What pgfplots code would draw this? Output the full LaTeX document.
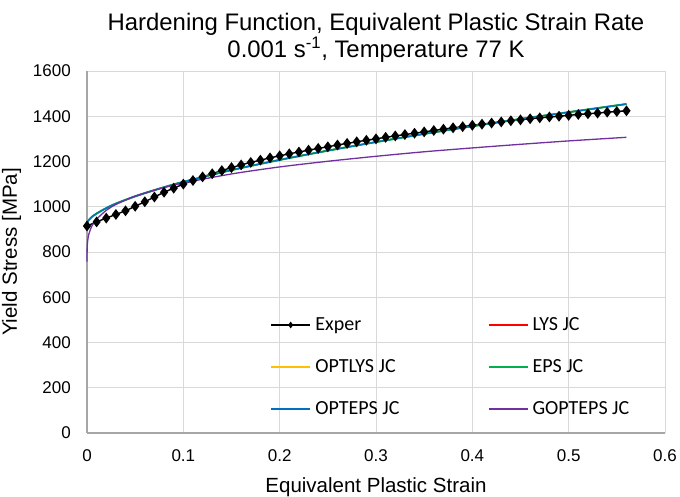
\documentclass[border=0pt]{standalone}
\usepackage{fontspec}
\setmainfont{Liberation Sans}
\newfontfamily\legfont{Carlito}
\usepackage{pgfplots}
\pgfplotsset{compat=1.18}
\definecolor{gridc}{HTML}{D9D9D9}
\definecolor{axc}{HTML}{A6A6A6}
\definecolor{cred}{HTML}{FF0000}
\definecolor{cyel}{HTML}{FFC000}
\definecolor{cgrn}{HTML}{00B050}
\definecolor{cblu}{HTML}{0070C0}
\definecolor{cpur}{HTML}{7030A0}
\begin{document}
\begin{tikzpicture}
\begin{axis}[
  scale only axis, width=578pt, height=362pt,
  xmin=0, xmax=0.6, ymin=0, ymax=1600,
  axis x line=bottom, axis y line=left,
  axis line style={axc, line width=1.3pt, -},
  xtick={0,0.1,0.2,0.3,0.4,0.5,0.6},
  xticklabels={0,0.1,0.2,0.3,0.4,0.5,0.6},
  ytick={0,200,400,600,800,1000,1200,1400,1600},
  yticklabels={0,200,400,600,800,1000,1200,1400,1600},
  major tick length=0pt,
  grid=major, major grid style={gridc, line width=0.8pt},
  tick label style={font=\fontsize{17}{20}\selectfont, inner sep=0pt, text=black},
  xticklabel style={anchor=north, yshift=-16pt},
  yticklabel style={anchor=east, xshift=-16pt},
  xlabel={Equivalent Plastic Strain},
  ylabel={Yield Stress [MPa]},
  label style={font=\fontsize{20.5}{24}\selectfont},
  xlabel style={at={(rel axis cs:0.5,-0.165)}, anchor=base},
  ylabel style={at={(rel axis cs:-0.1306,0.5)}, anchor=center},
  clip=false,
  legend columns=2,
  legend cell align=left,
  legend style={at={(rel axis cs:0.3178,0.3177)}, anchor=north west,
    draw=none, fill=none, inner sep=0pt, outer sep=0pt,
    font=\legfont\fontsize{20}{24}\selectfont,
    nodes={inner sep=0pt, text height=13pt, text depth=1pt},
    row sep=28pt,
    /tikz/every odd column/.append style={column sep=4.7pt},
    /tikz/every even column/.append style={column sep=88.5pt}},
  legend image code/.code={\draw[mark repeat=2,mark phase=2] plot coordinates {(0pt,0pt)(19.3pt,0pt)(38.6pt,0pt)};},
]
\coordinate (bbsw) at (rel axis cs:-0.15052,-0.17403);
\coordinate (bbne) at (rel axis cs:1.02595,1.19613);
\node[anchor=base, font=\fontsize{23.9}{27}\selectfont] at (rel axis cs:0.5,1.1105) {Hardening Function, Equivalent Plastic Strain Rate};
\node[anchor=base, font=\fontsize{23.9}{27}\selectfont] at (rel axis cs:0.5,1.0378) {0.001 s\textsuperscript{-1}, Temperature 77 K};

\addplot[black, line width=1.4pt, mark=diamond*, mark size=4.3pt, mark options={solid}, legend image post style={mark size=2.2pt}] coordinates {
(0,915)(0.01,933)(0.02,950)(0.03,966)(0.04,982)(0.05,1002)(0.06,1022)(0.07,1043)(0.08,1064)(0.09,1082)
(0.10,1100)(0.11,1116)(0.12,1132)(0.13,1146)(0.14,1160)(0.15,1173)(0.16,1185)(0.17,1196)(0.18,1206)(0.19,1216)
(0.20,1225)(0.21,1234)(0.22,1242)(0.23,1250)(0.24,1258)(0.25,1265)(0.26,1273)(0.27,1280)(0.28,1287)(0.29,1294)
(0.30,1300)(0.31,1307)(0.32,1313)(0.33,1319)(0.34,1325)(0.35,1331)(0.36,1337)(0.37,1343)(0.38,1349)(0.39,1354)
(0.40,1360)(0.41,1365)(0.42,1370)(0.43,1375)(0.44,1380)(0.45,1384)(0.46,1389)(0.47,1393)(0.48,1397)(0.49,1400)
(0.50,1404)(0.51,1408)(0.52,1411)(0.53,1414)(0.54,1418)(0.55,1421)(0.56,1424)};
\addlegendentry{Exper}

\addplot[cred, line width=1.3pt, smooth] coordinates {
(0,925)(0.0005,932)(0.001,936)(0.002,942)(0.005,955)(0.01,970)(0.02,994)(0.03,1014)(0.05,1046)(0.075,1080)
(0.1,1110)(0.15,1162)(0.2,1207)(0.25,1248)(0.3,1286)(0.35,1322)(0.4,1356)(0.45,1388)(0.5,1418)(0.56,1454)};
\addlegendentry{LYS JC}

\addplot[cyel, line width=1.3pt, smooth] coordinates {
(0,925)(0.0005,932)(0.001,936)(0.002,942)(0.005,955)(0.01,970)(0.02,994)(0.03,1014)(0.05,1046)(0.075,1080)
(0.1,1110)(0.15,1162)(0.2,1207)(0.25,1248)(0.3,1286)(0.35,1322)(0.4,1356)(0.45,1388)(0.5,1418)(0.56,1454)};
\addlegendentry{OPTLYS JC}

\addplot[cgrn, line width=2pt, smooth, legend image post style={line width=1.3pt}] coordinates {
(0,925)(0.0005,932)(0.001,936)(0.002,942)(0.005,955)(0.01,970)(0.02,994)(0.03,1014)(0.05,1046)(0.075,1080)
(0.1,1110)(0.15,1162)(0.2,1207)(0.25,1248)(0.3,1286)(0.35,1322)(0.4,1356)(0.45,1388)(0.5,1418)(0.56,1454)};
\addlegendentry{EPS JC}

\addplot[cblu, line width=1.2pt, smooth] coordinates {
(0,925)(0.0005,932)(0.001,936)(0.002,942)(0.005,955)(0.01,970)(0.02,994)(0.03,1014)(0.05,1046)(0.075,1080)
(0.1,1110)(0.15,1162)(0.2,1207)(0.25,1248)(0.3,1286)(0.35,1322)(0.4,1356)(0.45,1388)(0.5,1418)(0.56,1454)};
\addlegendentry{OPTEPS JC}

\addplot[cpur, line width=1.3pt, smooth] coordinates {
(0,757)(0.0002,824)(0.0005,842)(0.001,859)(0.002,880)(0.005,914)(0.01,945)(0.02,984)(0.03,1010)(0.05,1047)
(0.075,1079)(0.1,1105)(0.15,1145)(0.2,1176)(0.25,1201)(0.3,1223)(0.35,1243)(0.4,1260)(0.45,1276)(0.5,1291)(0.56,1307)};
\addlegendentry{GOPTEPS JC}
\end{axis}
\pgfresetboundingbox
\path[use as bounding box] (bbsw) rectangle (bbne);
\end{tikzpicture}
\end{document}
